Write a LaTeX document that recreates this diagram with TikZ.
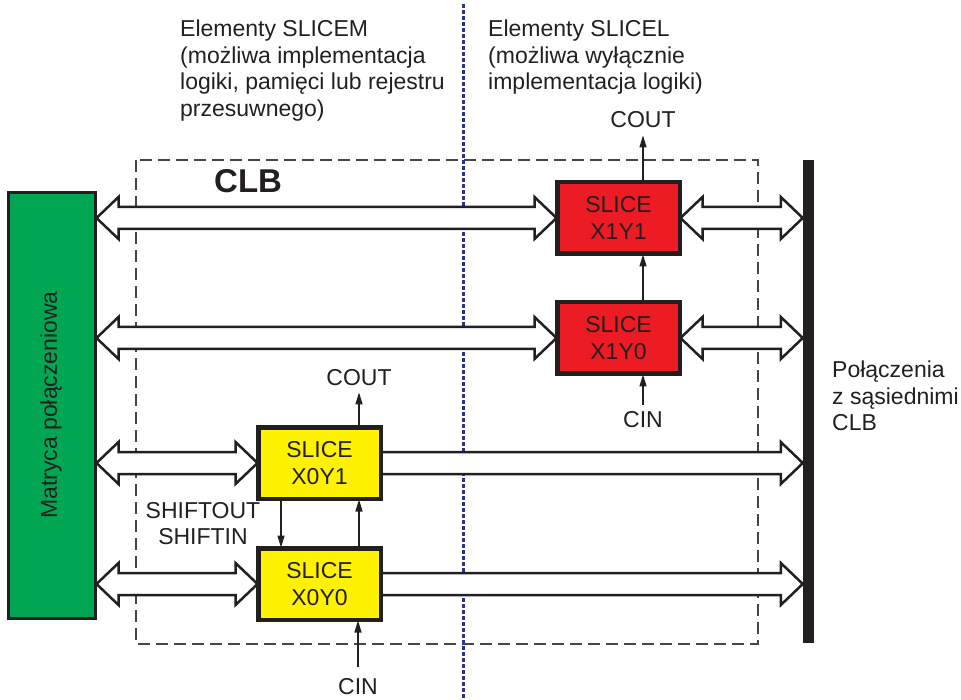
\documentclass[tikz,border=0pt]{standalone}
\usepackage{fontspec}
\setmainfont{Liberation Sans}
\usetikzlibrary{arrows.meta,calc}

\definecolor{ink}{RGB}{35,31,32}
\definecolor{matgreen}{RGB}{0,166,81}
\definecolor{slred}{RGB}{237,28,36}
\definecolor{slyellow}{RGB}{255,242,0}
\definecolor{divblue}{RGB}{46,49,146}
\definecolor{dashgray}{RGB}{70,70,70}

\tikzset{
  txt/.style={inner sep=0pt, font=\fontsize{23}{26.5}\selectfont, text=ink},
  slicebox/.style={draw=ink, line width=3pt, minimum width=121pt, minimum height=70pt,
    inner sep=0pt, align=center, font=\fontsize{23}{26.5}\selectfont, text=ink},
  fat/.style={draw=ink, fill=white, line width=2.5pt, line join=miter},
  sig/.style={draw=ink, line width=1.3pt, -{Triangle[length=12pt,width=7pt]}},
}

% double-headed wide arrow between two points on one row
\newcommand\fatboth[2]{%
  \path[fat] let \p1=(#1), \p2=(#2) in
    (\x1,\y1) -- (\x1+22pt,\y1+21pt) -- (\x1+22pt,\y1+11pt)
    -- (\x2-22pt,\y2+11pt) -- (\x2-22pt,\y2+21pt) -- (\x2,\y2)
    -- (\x2-22pt,\y2-21pt) -- (\x2-22pt,\y2-11pt)
    -- (\x1+22pt,\y1-11pt) -- (\x1+22pt,\y1-21pt) -- cycle;}
% single-headed wide arrow, flat tail
\newcommand\fatone[2]{%
  \path[fat] let \p1=(#1), \p2=(#2) in
    (\x1,\y1+11pt) -- (\x2-22pt,\y2+11pt) -- (\x2-22pt,\y2+21pt) -- (\x2,\y2)
    -- (\x2-22pt,\y2-21pt) -- (\x2-22pt,\y2-11pt) -- (\x1,\y1-11pt) -- cycle;}

\begin{document}
\begin{tikzpicture}[x=1pt,y=-1pt]
\useasboundingbox (0,0) rectangle (961,700);

% CLB frame and column divider
\draw[dashgray, line width=1.3pt, dash pattern=on 12pt off 6pt] (136,160) rectangle (758,644);
\draw[divblue, line width=3pt, dash pattern=on 4pt off 2pt] (463,4) -- (463,700);
\node[txt, font=\fontsize{33}{36}\bfseries\selectfont, anchor=base west] (clb) at (214,193) {CLB};

% column headings
\node[txt, anchor=north west, align=left] (hm) at (180,20)
  {Elementy SLICEM\\(możliwa implementacja\\logiki, pamięci lub rejestru\\przesuwnego)};
\node[txt, anchor=north west, align=left] (hl) at (488,20)
  {Elementy SLICEL\\(możliwa wyłącznie\\implementacja logiki)};

% routing matrix and neighbour bus
\node[draw=ink, fill=matgreen, line width=3pt, minimum width=87pt, minimum height=425pt,
  inner sep=0pt] (mat) at (51.5,405.5) {};
\node[txt, rotate=90] (matlbl) at (51,405) {Matryca połączeniowa};
\node[fill=ink, minimum width=11pt, minimum height=483pt, inner sep=0pt] (bus) at (808.5,401.5) {};
\node[txt, anchor=north west, align=left] (nb) at (832,361)
  {Połączenia\\z sąsiednimi\\CLB};

% slices
\node[slicebox, fill=slred] (s11) at (618.5,218) {SLICE\\X1Y1};
\node[slicebox, fill=slred] (s10) at (618.5,338) {SLICE\\X1Y0};
\node[slicebox, fill=slyellow] (s01) at (319.5,463) {SLICE\\X0Y1};
\node[slicebox, fill=slyellow] (s00) at (319.5,584) {SLICE\\X0Y0};

% wide buses
\fatboth{mat.east |- s11.west}{s11.west}
\fatboth{mat.east |- s10.west}{s10.west}
\fatboth{mat.east |- s01.west}{s01.west}
\fatboth{mat.east |- s00.west}{s00.west}
\fatboth{s11.east}{bus.west |- s11.east}
\fatboth{s10.east}{bus.west |- s10.east}
\fatone{s01.east}{bus.west |- s01.east}
\fatone{s00.east}{bus.west |- s00.east}

% redraw slice borders above the bus ends
\foreach \s in {s11,s10,s01,s00} \draw[ink, line width=3pt] (\s.north west) rectangle (\s.south east);

% carry and shift labels
\node[txt, anchor=base] (cout1) at (643,128) {COUT};
\node[txt, anchor=base] (cin1) at (643,427) {CIN};
\node[txt, anchor=base] (cout0) at (359,385) {COUT};
\node[txt, anchor=base] (cin0) at (358,694) {CIN};
\node[txt, anchor=north, align=center] (shift) at (203,502) {SHIFTOUT\\SHIFTIN};

% carry chains and shift link
\draw[sig, shorten >=7pt] (s11.north -| cout1) -- (cout1.south);
\draw[sig] (s10.north -| cout1) -- (s11.south -| cout1);
\draw[sig, shorten <=6pt] (cin1.north) -- (s10.south -| cin1);
\draw[sig, shorten >=7pt] (s01.north -| cout0) -- (cout0.south);
\draw[sig] (s00.north -| cout0) -- (s01.south -| cout0);
\draw[sig, shorten <=11pt] (cin0.north) -- (s00.south -| cin0);
\draw[sig] (s01.south -| 281,0) -- (s00.north -| 281,0);
\end{tikzpicture}
\end{document}
